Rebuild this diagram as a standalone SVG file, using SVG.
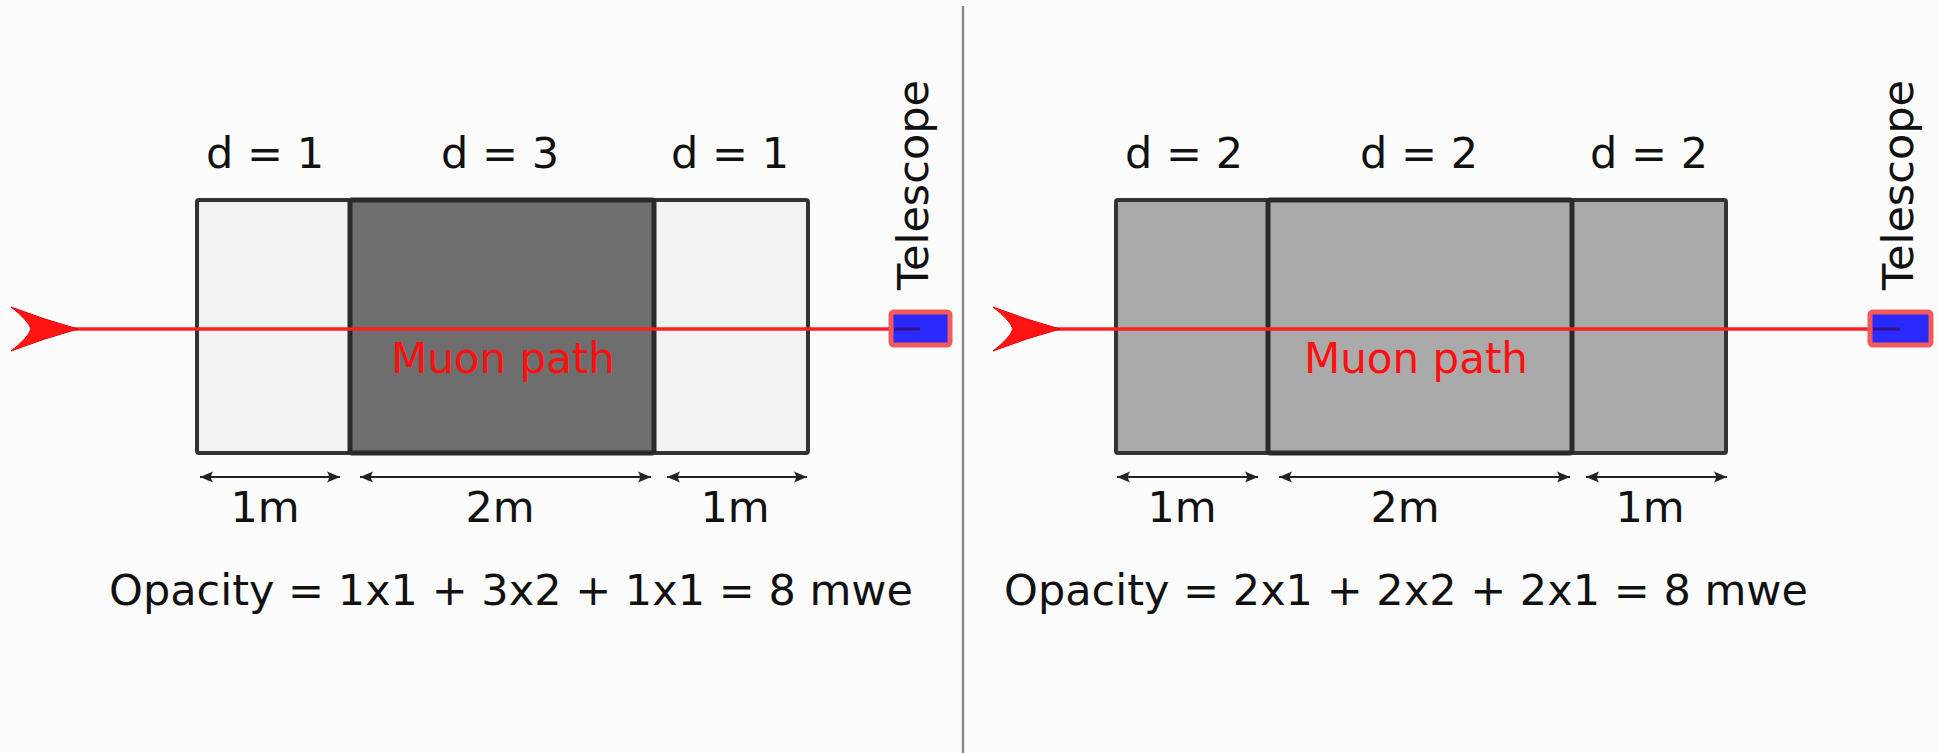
<svg xmlns="http://www.w3.org/2000/svg" width="1938" height="753" viewBox="0 0 1938 753">
  <defs>
    <style>
      .lbl { font-family: "DejaVu Sans", "Liberation Sans", sans-serif; font-size: 43px; fill: #111; text-anchor: middle; }
      .muon { font-family: "DejaVu Sans", "Liberation Sans", sans-serif; font-size: 42px; fill: #ff1010; text-anchor: middle; }
      .light { fill: #f2f2f2; stroke: #333; stroke-width: 4; }
      .dark { fill: #6e6e6e; stroke: #2a2a2a; stroke-width: 5; }
      .mid { fill: #aaaaaa; stroke: #333; stroke-width: 4; }
      .midc { fill: #aaaaaa; stroke: #2a2a2a; stroke-width: 5; }
      .dim { stroke: #222; stroke-width: 1.8; fill: none; marker-start: url(#dimL); marker-end: url(#dimR); }
      .path { stroke: #ff2020; stroke-width: 3.5; fill: none; }
      .head { fill: #ff1414; stroke: #e00000; stroke-width: 1; }
      .tele { fill: #2a2aff; stroke: #f25a5a; stroke-width: 5; }
      .teleline { stroke: #35108a; stroke-width: 3; }
    </style>
    <marker id="dimR" markerUnits="userSpaceOnUse" markerWidth="16" markerHeight="12" viewBox="-14 -6 16 12" refX="0" refY="0" orient="auto">
      <path d="M0,0 L-13,-5.5 Q-9,0 -13,5.5 Z" fill="#222"/>
    </marker>
    <marker id="dimL" markerUnits="userSpaceOnUse" markerWidth="16" markerHeight="12" viewBox="-2 -6 16 12" refX="0" refY="0" orient="auto">
      <path d="M0,0 L13,-5.5 Q9,0 13,5.5 Z" fill="#222"/>
    </marker>
  </defs>

  <rect x="0" y="0" width="1938" height="753" fill="#fcfcfc"/>
  <line x1="963" y1="6" x2="963" y2="753" stroke="#8a8a8a" stroke-width="2.5"/>

  <!-- LEFT PANEL -->
  <g id="left-block-1">
    <rect class="light" x="197" y="200" width="153" height="253" rx="2"/>
    <text class="lbl" x="265" y="168">d = 1</text>
  </g>
  <g id="left-block-3">
    <rect class="light" x="654" y="200" width="154" height="253" rx="2"/>
    <text class="lbl" x="730" y="168">d = 1</text>
  </g>
  <g id="left-block-2">
    <rect class="dark" x="350" y="200" width="304" height="253" rx="2"/>
    <text class="lbl" x="500" y="168">d = 3</text>
  </g>
  <g id="left-dims">
    <line class="dim" x1="200" y1="477" x2="340" y2="477"/>
    <line class="dim" x1="360" y1="477" x2="651" y2="477"/>
    <line class="dim" x1="667" y1="477" x2="807" y2="477"/>
    <text class="lbl" x="265" y="522">1m</text>
    <text class="lbl" x="500" y="522">2m</text>
    <text class="lbl" x="735" y="522">1m</text>
  </g>
  <g id="left-opacity">
    <text class="lbl" x="511" y="605">Opacity = 1x1 + 3x2 + 1x1 = 8 mwe</text>
  </g>

  <!-- RIGHT PANEL -->
  <g id="right-block-1">
    <rect class="mid" x="1116" y="200" width="152" height="253" rx="2"/>
    <text class="lbl" x="1184" y="168">d = 2</text>
  </g>
  <g id="right-block-3">
    <rect class="mid" x="1572" y="200" width="154" height="253" rx="2"/>
    <text class="lbl" x="1649" y="168">d = 2</text>
  </g>
  <g id="right-block-2">
    <rect class="midc" x="1268" y="200" width="304" height="253" rx="2"/>
    <text class="lbl" x="1419" y="168">d = 2</text>
  </g>
  <g id="right-dims">
    <line class="dim" x1="1117" y1="477" x2="1258" y2="477"/>
    <line class="dim" x1="1279" y1="477" x2="1570" y2="477"/>
    <line class="dim" x1="1586" y1="477" x2="1727" y2="477"/>
    <text class="lbl" x="1182" y="522">1m</text>
    <text class="lbl" x="1405" y="522">2m</text>
    <text class="lbl" x="1650" y="522">1m</text>
  </g>
  <g id="right-opacity">
    <text class="lbl" x="1406" y="605">Opacity = 2x1 + 2x2 + 2x1 = 8 mwe</text>
  </g>

  <!-- connectors: muon paths -->
  <g id="connectors">
    <line class="path" x1="70" y1="329" x2="892" y2="329"/>
    <path class="head" d="M78,329 Q45,320 11,307 Q28,320 31,329 Q28,338 11,351 Q45,338 78,329 Z"/>
    <line class="path" x1="1052" y1="329" x2="1872" y2="329"/>
    <path class="head" d="M1060,329 Q1027,320 993,307 Q1010,320 1013,329 Q1010,338 993,351 Q1027,338 1060,329 Z"/>
  </g>

  <g id="left-muon-label">
    <text class="muon" x="503" y="373">Muon path</text>
  </g>
  <g id="right-muon-label">
    <text class="muon" x="1416" y="373">Muon path</text>
  </g>

  <g id="left-telescope">
    <rect class="tele" x="891" y="312" width="59" height="33" rx="3"/>
    <line class="teleline" x1="894" y1="329" x2="920" y2="329"/>
    <text class="lbl" transform="translate(928,185) rotate(-90)">Telescope</text>
  </g>
  <g id="right-telescope">
    <rect class="tele" x="1870" y="312" width="61" height="33" rx="3"/>
    <line class="teleline" x1="1873" y1="329" x2="1900" y2="329"/>
    <text class="lbl" transform="translate(1913,185) rotate(-90)">Telescope</text>
  </g>
</svg>
